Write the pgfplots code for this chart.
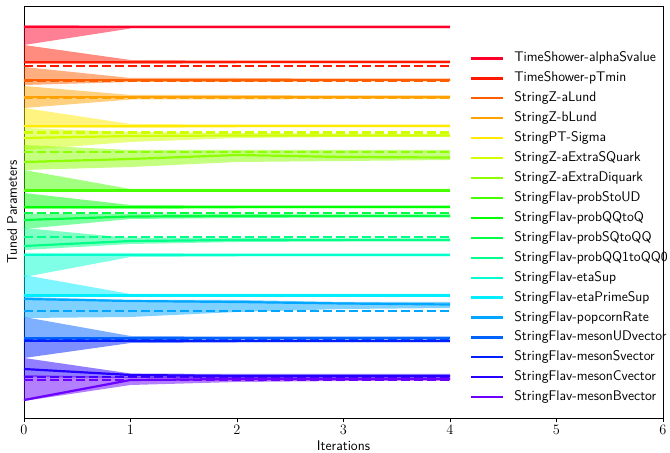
\documentclass[border=0pt]{standalone}
\usepackage{pgfplots}
\pgfplotsset{compat=1.18}
\usepackage{xcolor}

% rainbow colours, one per tuned parameter
\definecolor{c0}{rgb}{1,0,0.167}
\definecolor{c1}{rgb}{1,0.1,0}
\definecolor{c2}{rgb}{1,0.367,0}
\definecolor{c3}{rgb}{1,0.633,0}
\definecolor{c4}{rgb}{1,0.917,0}
\definecolor{c5}{rgb}{0.817,1,0}
\definecolor{c6}{rgb}{0.55,1,0}
\definecolor{c7}{rgb}{0.283,1,0}
\definecolor{c8}{rgb}{0,1,0}
\definecolor{c9}{rgb}{0,1,0.267}
\definecolor{c10}{rgb}{0,1,0.533}
\definecolor{c11}{rgb}{0,1,0.8}
\definecolor{c12}{rgb}{0,0.933,1}
\definecolor{c13}{rgb}{0,0.65,1}
\definecolor{c14}{rgb}{0,0.383,1}
\definecolor{c15}{rgb}{0,0.117,1}
\definecolor{c16}{rgb}{0.15,0,1}
\definecolor{c17}{rgb}{0.417,0,1}

\pgfplotsset{
  band/.style={forget plot, draw=none, fill=#1, fill opacity=0.5},
  tuned/.style={#1, line width=2.2pt},
  truth/.style={forget plot, #1, line width=2.2pt, dash pattern=on 9bp off 4bp},
}

\begin{document}
\begin{tikzpicture}
\begin{axis}[
    at={(0,0)}, anchor=south west,
    scale only axis, width=639bp, height=411.5bp,
    xmin=0, xmax=6, ymin=-21, ymax=390.5,
    xtick={0,1,2,3,4,5,6}, ytick=\empty,
    tick align=outside, xtick pos=bottom,
    major tick length=4bp,
    axis line style={line width=0.8pt},
    tick style={line width=0.8pt, black},
    tick label style={font=\fontsize{14}{16}\selectfont},
    xlabel={Iterations}, ylabel={Tuned Parameters},
    label style={font=\sffamily\fontsize{14}{16}\selectfont},
    xlabel style={at={(axis description cs:0.5,-0.0668)}, anchor=center},
    ylabel style={at={(axis description cs:-0.0188,0.5)}, anchor=center},
    legend cell align=left,
    legend image code/.code={\draw[#1] (0bp,0bp) -- (32bp,0bp);},
    legend style={draw=none, fill=none, font=\sffamily\fontsize{14}{16}\selectfont,
      inner sep=0pt, at={(0.698,0.8923)}, anchor=north west, row sep=5pt,
      nodes={inner sep=1pt, text height=10pt, text depth=3pt},
      /tikz/every odd column/.append style={column sep=9bp}},
]
% TimeShower-alphaSvalue
\addplot[band=c0] coordinates {(0,372)(1,371.5)(2,371.5)(3,371.5)(4,371.5)(4,368.5)(3,368.5)(2,368.5)(1,368.5)(0,352)} -- cycle;
\addplot[tuned=c0] coordinates {(0,370)(1,370)(2,370)(3,370)(4,370)};
\addplot[truth=c0] coordinates {(0,370)(4,370)};
% TimeShower-pTmin
\addplot[band=c1] coordinates {(0,352)(1,337)(2,336.5)(3,336.5)(4,336.5)(4,333.5)(3,333.5)(2,333.5)(1,333)(0,333)} -- cycle;
\addplot[tuned=c1] coordinates {(0,335)(1,335)(2,335)(3,335)(4,335)};
\addplot[truth=c1] coordinates {(0,331)(4,331)};
% StringZ-aLund
\addplot[band=c2] coordinates {(0,330)(1,319)(2,319)(3,318.5)(4,318.5)(4,315.5)(3,315.5)(2,315)(1,315)(0,312)} -- cycle;
\addplot[tuned=c2] coordinates {(0,317)(1,317)(2,317)(3,317)(4,317)};
\addplot[truth=c2] coordinates {(0,316)(4,316)};
% StringZ-bLund
\addplot[band=c3] coordinates {(0,311)(1,302)(2,302)(3,301.5)(4,301.5)(4,298)(3,298)(2,297.5)(1,297.5)(0,289)} -- cycle;
\addplot[tuned=c3] coordinates {(0,300)(1,300)(2,300)(3,300)(4,300)};
\addplot[truth=c3] coordinates {(0,299)(4,299)};
% StringPT-Sigma
\addplot[band=c4] coordinates {(0,289)(1,273)(2,272.5)(3,272.5)(4,272.5)(4,269.5)(3,269.5)(2,269.5)(1,269)(0,269)} -- cycle;
\addplot[tuned=c4] coordinates {(0,271)(1,271)(2,271)(3,271)(4,271)};
\addplot[truth=c4] coordinates {(0,271)(4,271)};
% StringZ-aExtraSQuark
\addplot[band=c5] coordinates {(0,269)(1,265)(2,264)(3,263.5)(4,263)(4,260)(3,260)(2,259)(1,255)(0,247)} -- cycle;
\addplot[tuned=c5] coordinates {(0,259)(1,261)(2,261.5)(3,261.5)(4,261.5)};
\addplot[truth=c5] coordinates {(0,264.5)(4,264.5)};
% StringZ-aExtraDiquark
\addplot[band=c6] coordinates {(0,252)(1,247)(2,247)(3,247)(4,247)(4,237)(3,236)(2,235)(1,230)(0,227)} -- cycle;
\addplot[tuned=c6] coordinates {(0,235)(1,238)(2,242)(3,240)(4,239.5)};
\addplot[truth=c6] coordinates {(0,245)(4,245)};
% StringFlav-probStoUD
\addplot[band=c7] coordinates {(0,227)(1,208)(2,208)(3,208)(4,208)(4,205)(3,205)(2,205)(1,205)(0,205)} -- cycle;
\addplot[tuned=c7] coordinates {(0,206.5)(1,206.5)(2,206.5)(3,206.5)(4,206.5)};
\addplot[truth=c7] coordinates {(0,206.5)(4,206.5)};
% StringFlav-probQQtoQ
\addplot[band=c8] coordinates {(0,204)(1,192)(2,191.5)(3,191.5)(4,191.5)(4,188.5)(3,188.5)(2,188.5)(1,188)(0,188)} -- cycle;
\addplot[tuned=c8] coordinates {(0,190)(1,190)(2,190)(3,190)(4,190)};
\addplot[truth=c8] coordinates {(0,190)(4,190)};
% StringFlav-probSQtoQQ
\addplot[band=c9] coordinates {(0,183)(1,183)(2,183)(3,182.5)(4,182.5)(4,179.5)(3,179.5)(2,179)(1,178)(0,168)} -- cycle;
\addplot[tuned=c9] coordinates {(0,177)(1,180.5)(2,181)(3,181)(4,181)};
\addplot[truth=c9] coordinates {(0,184)(4,184)};
% StringFlav-probQQ1toQQ0
\addplot[band=c10] coordinates {(0,169)(1,159)(2,159)(3,158.5)(4,158.5)(4,155.5)(3,155.5)(2,155)(1,153)(0,147)} -- cycle;
\addplot[tuned=c10] coordinates {(0,151)(1,156)(2,157)(3,157)(4,157)};
\addplot[truth=c10] coordinates {(0,160)(4,160)};
% StringFlav-etaSup
\addplot[band=c11] coordinates {(0,144)(1,144)(2,143.5)(3,143.5)(4,143.5)(4,140.5)(3,140.5)(2,140.5)(1,140)(0,120)} -- cycle;
\addplot[tuned=c11] coordinates {(0,142)(1,142)(2,142)(3,142)(4,142)};
\addplot[truth=c11] coordinates {(0,142)(4,142)};
% StringFlav-etaPrimeSup
\addplot[band=c12] coordinates {(0,122)(1,103)(2,103)(3,103)(4,103)(4,100)(3,100)(2,100)(1,100)(0,100)} -- cycle;
\addplot[tuned=c12] coordinates {(0,101.5)(1,101.5)(2,101.5)(3,101.5)(4,101.5)};
\addplot[truth=c12] coordinates {(0,101.5)(4,101.5)};
% StringFlav-popcornRate
\addplot[band=c13] coordinates {(0,100)(1,97)(2,97)(3,95)(4,95)(4,89)(3,88)(2,85)(1,80)(0,79)} -- cycle;
\addplot[tuned=c13] coordinates {(0,98)(1,96)(2,95)(3,93.5)(4,92.5)};
\addplot[truth=c13] coordinates {(0,86)(4,86)};
% StringFlav-mesonUDvector
\addplot[band=c14] coordinates {(0,80)(1,61)(2,60.5)(3,60.5)(4,60.5)(4,57.5)(3,57.5)(2,57.5)(1,57)(0,57)} -- cycle;
\addplot[tuned=c14] coordinates {(0,59)(1,59)(2,59)(3,59)(4,59)};
\addplot[truth=c14] coordinates {(0,58)(4,58)};
% StringFlav-mesonSvector
\addplot[band=c15] coordinates {(0,58)(1,58)(2,57.5)(3,57.5)(4,57.5)(4,54.5)(3,54.5)(2,54.5)(1,54)(0,39)} -- cycle;
\addplot[tuned=c15] coordinates {(0,56)(1,56)(2,56)(3,56)(4,56)};
\addplot[truth=c15] coordinates {(0,56)(4,56)};
% StringFlav-mesonCvector
\addplot[band=c16] coordinates {(0,39)(1,23.5)(2,23)(3,23)(4,23)(4,19)(3,19)(2,19)(1,19)(0,20)} -- cycle;
\addplot[tuned=c16] coordinates {(0,28)(1,22)(2,21)(3,21)(4,21)};
\addplot[truth=c16] coordinates {(0,20)(4,20)};
% StringFlav-mesonBvector
\addplot[band=c17] coordinates {(0,22)(1,20)(2,20)(3,19.5)(4,19.5)(4,16.5)(3,16)(2,15)(1,12)(0,-4)} -- cycle;
\addplot[tuned=c17] coordinates {(0,-3)(1,17)(2,18)(3,18)(4,18)};
\addplot[truth=c17] coordinates {(0,17)(4,17)};
\legend{TimeShower-alphaSvalue, TimeShower-pTmin, StringZ-aLund, StringZ-bLund,
  StringPT-Sigma, StringZ-aExtraSQuark, StringZ-aExtraDiquark, StringFlav-probStoUD,
  StringFlav-probQQtoQ, StringFlav-probSQtoQQ, StringFlav-probQQ1toQQ0, StringFlav-etaSup,
  StringFlav-etaPrimeSup, StringFlav-popcornRate, StringFlav-mesonUDvector,
  StringFlav-mesonSvector, StringFlav-mesonCvector, StringFlav-mesonBvector}
\end{axis}
\pgfresetboundingbox
\useasboundingbox (-24bp,-35bp) rectangle (646bp,418bp);
\end{tikzpicture}
\end{document}
